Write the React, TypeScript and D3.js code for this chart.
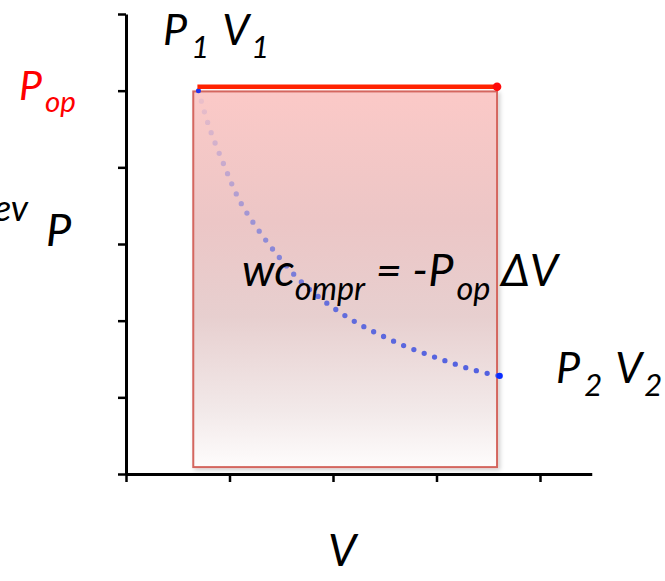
import React, { useRef, useEffect } from 'react';
import * as d3 from 'd3';

const W = 665;
const H = 581;

// axis ticks (no labels on the original)
const volumeTicks = [0, 1, 2, 3, 4];
const pressureTicks = [0, 1, 2, 3, 4, 5, 6];

// expansion / compression path
const curveV = [0.70, 0.80, 0.95, 1.10, 1.27, 1.49, 1.69, 1.90, 2.10, 2.30, 2.51, 2.71, 2.91, 3.10, 3.30, 3.50, 3.61];
const curveP = [5.00, 4.54, 4.02, 3.56, 3.20, 2.81, 2.51, 2.27, 2.08, 1.92, 1.78, 1.66, 1.56, 1.47, 1.38, 1.31, 1.28];

// constant opposing pressure line
const popV = [0.69, 3.585];
const popP = [5.05, 5.05];

// shaded work area
const workV = [0.65, 3.585];
const workP = [0.09, 4.99];

const FONT = 'Lato, "Open Sans", sans-serif';

function App() {
  const svgRef = useRef(null);

  useEffect(() => {
    const svg = d3.select(svgRef.current);
    svg.selectAll('*').remove();

    const x = d3.scaleLinear().domain([0, 4.5]).range([126, 591.75]);
    const y = d3.scaleLinear().domain([0, 6]).range([474, 14]);

    const defs = svg.append('defs');

    // pink fading area fill
    const areaGrad = defs
      .append('linearGradient')
      .attr('id', 'areaGrad')
      .attr('x1', 0)
      .attr('y1', 0)
      .attr('x2', 0)
      .attr('y2', 1);
    [
      [0, '#fbc9c7'],
      [0.35, '#ecc6c6'],
      [0.6, '#e7cfcf'],
      [0.85, '#f2e9e9'],
      [1, '#fefcfc'],
    ].forEach(([o, c]) => areaGrad.append('stop').attr('offset', o).attr('stop-color', c));

    // the dotted curve fades in from the top
    const dotGrad = defs
      .append('linearGradient')
      .attr('id', 'dotGrad')
      .attr('gradientUnits', 'userSpaceOnUse')
      .attr('x1', 0)
      .attr('y1', y(5))
      .attr('x2', 0)
      .attr('y2', y(1.3));
    [
      [0, '#8f7fd6', 0.1],
      [0.25, '#8a80d8', 0.4],
      [0.5, '#6f76dc', 0.7],
      [0.75, '#5664dd', 0.9],
      [1, '#4a5ae0', 0.95],
    ].forEach(([o, c, a]) =>
      dotGrad.append('stop').attr('offset', o).attr('stop-color', c).attr('stop-opacity', a)
    );

    const shadow = defs.append('filter').attr('id', 'shadow').attr('x', '-5%').attr('y', '-5%').attr('width', '115%').attr('height', '115%');
    shadow
      .append('feDropShadow')
      .attr('dx', 2)
      .attr('dy', 2)
      .attr('stdDeviation', 2)
      .attr('flood-color', '#000')
      .attr('flood-opacity', 0.2);

    // axes
    const xAxis = d3.axisBottom(x).tickValues(volumeTicks).tickSize(8).tickSizeOuter(0).tickFormat(() => '');
    const yAxis = d3.axisLeft(y).tickValues(pressureTicks).tickSize(8).tickSizeOuter(0).tickFormat(() => '');

    const gx = svg.append('g').attr('transform', `translate(0,${y(0)})`).call(xAxis);
    const gy = svg.append('g').attr('transform', `translate(${x(0)},0)`).call(yAxis);
    [gx, gy].forEach((g) => {
      g.select('.domain').attr('stroke', '#000').attr('stroke-width', 3);
      g.selectAll('.tick line').attr('stroke', '#000').attr('stroke-width', 2.5);
    });

    // work rectangle
    svg
      .append('rect')
      .attr('x', x(workV[0]))
      .attr('y', y(workP[1]))
      .attr('width', x(workV[1]) - x(workV[0]))
      .attr('height', y(workP[0]) - y(workP[1]))
      .attr('fill', 'url(#areaGrad)')
      .attr('stroke', '#d4665f')
      .attr('stroke-width', 2)
      .attr('filter', 'url(#shadow)');

    // dotted curve
    const pts = curveV.map((v, i) => [x(v), y(curveP[i])]);
    const line = d3.line().curve(d3.curveCatmullRom.alpha(0.5));
    svg
      .append('path')
      .attr('d', line(pts))
      .attr('fill', 'none')
      .attr('stroke', 'url(#dotGrad)')
      .attr('stroke-width', 5.3)
      .attr('stroke-linecap', 'round')
      .attr('stroke-dasharray', '0 11');

    const first = pts[0];
    const last = pts[pts.length - 1];
    svg.append('circle').attr('cx', first[0]).attr('cy', first[1]).attr('r', 2.5).attr('fill', '#2233ee');
    svg.append('circle').attr('cx', last[0]).attr('cy', last[1]).attr('r', 3.2).attr('fill', '#0a2cff');

    // P_op line
    svg
      .append('line')
      .attr('x1', x(popV[0]))
      .attr('x2', x(popV[1]))
      .attr('y1', y(popP[0]))
      .attr('y2', y(popP[1]))
      .attr('stroke', '#ff2200')
      .attr('stroke-width', 4.5);
    svg
      .append('circle')
      .attr('cx', x(popV[1]))
      .attr('cy', y(popP[1]))
      .attr('r', 4.3)
      .attr('fill', '#ff0a0a');

    // text helper: parts = [text, isSub, dxBefore]
    const label = (px, py, parts, color = '#000', size = 43) => {
      const t = svg
        .append('text')
        .attr('x', px)
        .attr('y', py)
        .attr('font-family', FONT)
        .attr('font-style', 'italic')
        .attr('font-size', size)
        .attr('fill', color);
      let down = false;
      parts.forEach(([s, sub, dx = 0]) => {
        const dy = sub && !down ? size * 0.3 : !sub && down ? -size * 0.3 : 0;
        down = !!sub;
        t.append('tspan')
          .attr('dx', dx)
          .attr('dy', dy)
          .attr('font-size', sub ? size * 0.72 : size)
          .text(s);
      });
      return t;
    };

    label(163, 45, [['P'], ['1', true, 4], ['V', false, 13], ['1', true, 2]]);
    label(19, 100, [['P'], ['op', true, 3]], '#ff0000', 41);
    label(28, 221, [['rev']], '#000', 36).attr('text-anchor', 'end');
    label(46, 246, [['P']], '#000', 45);
    label(328, 566, [['V']], '#000', 45);
    label(556, 383, [['P'], ['2', true, 4], ['V', false, 13], ['2', true, 2]]);
    label(242, 286, [['wc'], ['ompr', true], [' = -P', false], ['op', true, 3], [' ΔV', false]], '#000', 45);
  }, []);

  return (
    <svg
      ref={svgRef}
      width={W}
      height={H}
      style={{ position: 'absolute', left: 0, top: 0, display: 'block', background: '#fff' }}
    />
  );
}

export default App;
